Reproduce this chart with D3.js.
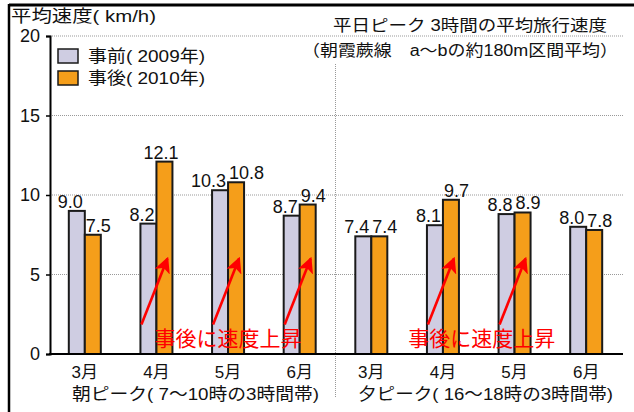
<!DOCTYPE html>
<html><head><meta charset="utf-8">
<script src="https://cdn.jsdelivr.net/npm/d3@7"></script>
<style>
html,body{margin:0;padding:0;background:#fff;}
svg{display:block;}
text{font-family:"Liberation Sans","Noto Sans CJK JP",sans-serif;fill:#111;}
</style></head>
<body>
<svg id="chart" width="634" height="412"></svg>
<script>
const months = ["3月","4月","5月","6月","3月","4月","5月","6月"];
const periods = ["朝ピーク( 7～10時の3時間帯)","夕ピーク( 16～18時の3時間帯)"];
const before = [9.0, 8.2, 10.3, 8.7, 7.4, 8.1, 8.8, 8.0];
const after = [7.5, 12.1, 10.8, 9.4, 7.4, 9.7, 8.9, 7.8];
const seriesNames = ["事前( 2009年)","事後( 2010年)"];
const yTicks = [0, 5, 10, 15, 20];
const arrowCats = [1, 2, 3, 5, 6];
const noteText = "事後に速度上昇";
const noteGroups = [[1,3],[5,6]];

const colors = ["#CFCDE2", "#F59E1A"];
const svg = d3.select("#chart");

const x = d3.scaleBand().domain(d3.range(months.length)).range([49, 622]);
const y = d3.scaleLinear().domain([0, 20]).range([354, 36]);
const bw = 16;

// frame
svg.append("line").attr("x1",9).attr("x2",634).attr("y1",5).attr("y2",5).attr("stroke","#000").attr("stroke-width",3);
svg.append("line").attr("x1",9).attr("x2",9).attr("y1",4).attr("y2",412).attr("stroke","#000").attr("stroke-width",2.5);

// gridlines
svg.append("g").selectAll("line").data(yTicks.filter(d=>d>0)).join("line")
  .attr("x1",50).attr("x2",623).attr("y1",d=>y(d)).attr("y2",d=>y(d))
  .attr("stroke","#999").attr("stroke-width",1).attr("stroke-dasharray","1,1");

// separator
const sepX = x(4);
svg.append("line").attr("x1",sepX).attr("x2",sepX).attr("y1",64).attr("y2",398)
  .attr("stroke","#999").attr("stroke-width",1).attr("stroke-dasharray","1,1");

// y axis
const yAxis = d3.axisLeft(y).tickValues(yTicks).tickSize(4).tickPadding(6).tickFormat(d3.format("d"));
const ya = svg.append("g").attr("transform","translate(50,0)").call(yAxis);
ya.select(".domain").attr("stroke","#000").attr("stroke-width",2);
ya.selectAll(".tick line").attr("stroke","#000").attr("stroke-width",1.5);
ya.selectAll(".tick text").attr("font-size",18).attr("fill","#111").attr("x",-10)
  .style("font-family",'"Liberation Sans",sans-serif');

// bars
const g = svg.append("g");
const vals = [before, after];
vals.forEach((arr, s) => {
  g.selectAll(".b"+s).data(arr).join("rect")
    .attr("x",(d,i)=>x(i)+x.bandwidth()/2 - bw + s*bw)
    .attr("width",bw)
    .attr("y",d=>y(d))
    .attr("height",d=>y(0)-y(d))
    .attr("fill",colors[s]).attr("stroke","#1a1a1a").attr("stroke-width",2);
});

// value labels
vals.forEach((arr, s) => {
  const other = vals[1-s];
  svg.append("g").selectAll("text").data(arr).join("text")
    .attr("font-size",18)
    .attr("y",d=>y(d)-3)
    .attr("x",(d,i)=>{
      const c = x(i)+x.bandwidth()/2;
      if (s===1 && d - other[i] > 2.5) return c + bw/2 - 3.5;
      return s===0 ? c - 2 : c + 1;
    })
    .attr("text-anchor",(d,i)=>{
      if (s===1 && d - other[i] > 2.5) return "middle";
      return s===0 ? "end" : "start";
    })
    .text(d=>d.toFixed(1));
});

// x axis baseline
svg.append("line").attr("x1",49).attr("x2",623).attr("y1",y(0)).attr("y2",y(0)).attr("stroke","#000").attr("stroke-width",2);

// month labels
svg.append("g").selectAll("text").data(months).join("text")
  .attr("x",(d,i)=>x(i)+x.bandwidth()/2).attr("y",378).attr("text-anchor","middle")
  .attr("font-size",17).text(d=>d);
// period labels
svg.append("g").selectAll("text").data(periods).join("text")
  .attr("x",(d,i)=>i===0?72:358).attr("y",400)
  .attr("font-size",17).attr("textLength",(d,i)=>i===0?247:255).attr("lengthAdjust","spacingAndGlyphs")
  .text(d=>d);

// arrows
const defs = svg.append("defs");
defs.append("marker").attr("id","ah").attr("viewBox","0 0 16 16").attr("refX",14).attr("refY",8)
  .attr("markerWidth",16).attr("markerHeight",16).attr("markerUnits","userSpaceOnUse").attr("orient","auto")
  .append("path").attr("d","M0,0 L16,8 L0,16 L4,8 Z").attr("fill","#FF0000");
svg.append("g").selectAll("line").data(arrowCats).join("line")
  .attr("x2",i=>x(i)+x.bandwidth()/2+bw/2+3).attr("y2",y(6))
  .attr("x1",i=>x(i)+x.bandwidth()/2+bw/2-23).attr("y1",y(1.85))
  .attr("stroke","#FF0000").attr("stroke-width",2.6).attr("marker-end","url(#ah)");

// notes
svg.append("g").selectAll("text").data(noteGroups).join("text")
  .attr("x",d=>(x(d[0])+x(d[1]))/2+x.bandwidth()/2+(d[1]-d[0]===1?3:0)).attr("y",346).attr("text-anchor","middle")
  .attr("font-size",21).style("fill","#FF0000").text(noteText);

// title
svg.append("text").attr("x",11).attr("y",22).attr("font-size",17).attr("textLength",145).attr("lengthAdjust","spacingAndGlyphs").text("平均速度( km/h)");
svg.append("rect").attr("x",300).attr("y",40).attr("width",322).attr("height",22).attr("fill","#fff");
svg.append("text").attr("x",333).attr("y",31).attr("font-size",16).attr("textLength",274).attr("lengthAdjust","spacingAndGlyphs")
  .text("平日ピーク 3時間の平均旅行速度");
svg.append("text").attr("x",302).attr("y",56).attr("font-size",16).attr("textLength",316).attr("lengthAdjust","spacingAndGlyphs")
  .text("（朝霞蕨線　a～bの約180m区間平均）");

// legend
const lg = svg.append("g");
seriesNames.forEach((n,i)=>{
  lg.append("rect").attr("x",58).attr("y",49+i*22).attr("width",20).attr("height",14)
    .attr("fill",colors[i]).attr("stroke","#1a1a1a").attr("stroke-width",1.5);
  lg.append("text").attr("x",88).attr("y",62+i*22).attr("font-size",17)
    .attr("textLength",117).attr("lengthAdjust","spacingAndGlyphs").text(n);
});
</script>
</body></html>
